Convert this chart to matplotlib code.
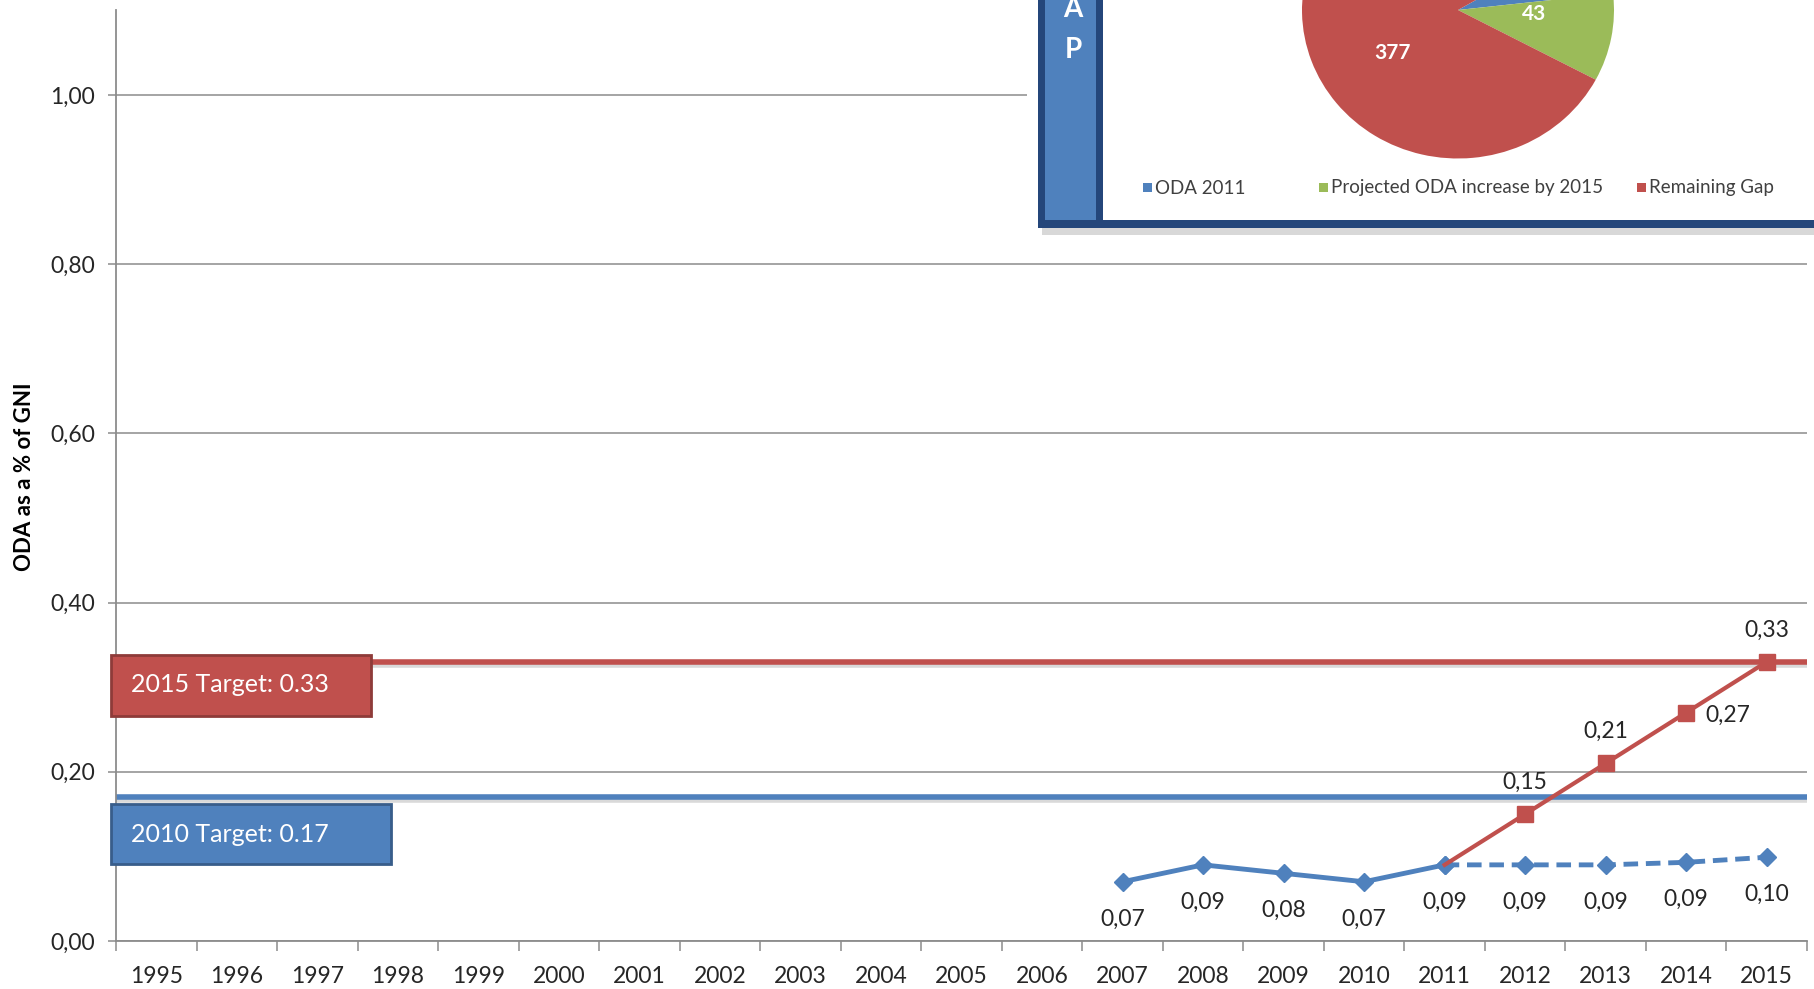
import matplotlib
matplotlib.use("Agg")
import matplotlib.pyplot as plt
from matplotlib.patches import Rectangle
import matplotlib.patheffects as pe

# ---------------- data ----------------
years = list(range(1995, 2016))
actual_years = [2007, 2008, 2009, 2010, 2011]
actual_oda = [0.07, 0.09, 0.08, 0.07, 0.09]
proj_years = [2011, 2012, 2013, 2014, 2015]
proj_oda = [0.09, 0.09, 0.09, 0.093, 0.099]
path_years = [2011, 2012, 2013, 2014, 2015]
path_oda = [0.09, 0.15, 0.21, 0.27, 0.33]
target_2010 = 0.17
target_2015 = 0.33
target_labels = ["2015 Target: 0.33", "2010 Target: 0.17"]
yticks = [0.0, 0.2, 0.4, 0.6, 0.8, 1.0]
pie_labels = ["ODA 2011", "Projected ODA increase by 2015", "Remaining Gap"]
pie_values = [30, 43, 377]
ylabel = "ODA as a % of GNI"

# ---------------- style ----------------
BLUE = "#4F81BD"
RED = "#C0504D"
GREEN = "#9BBB59"
GRID = "#8C8C8C"
TXT = "#262626"
FONT = ["Lato", "DejaVu Sans"]
plt.rcParams["font.family"] = FONT

W, H = 1814, 989
fig = plt.figure(figsize=(W / 100, H / 100), dpi=100)
fig.patch.set_facecolor("white")


def prect(x0, y0, x1, y1, **kw):
    """rectangle given in figure pixel coordinates (origin top-left)"""
    r = Rectangle((x0 / W, 1 - y1 / H), (x1 - x0) / W, (y1 - y0) / H,
                  transform=fig.transFigure, **kw)
    fig.add_artist(r)
    return r


def ptext(x, y, s, **kw):
    return fig.text(x / W, 1 - y / H, s, **kw)


# ---------------- main axes ----------------
ax_l, ax_r, ax_b, ax_t = 116, 1807, 941, 10.4
ax = fig.add_axes([ax_l / W, 1 - ax_b / H, (ax_r - ax_l) / W, (ax_b - ax_t) / H])
ax.set_xlim(years[0] - 0.5, years[-1] + 0.5)
ax.set_ylim(0, 1.1)

for s in ["top", "right"]:
    ax.spines[s].set_visible(False)
for s in ["left", "bottom"]:
    ax.spines[s].set_color(GRID)
    ax.spines[s].set_linewidth(1.3)

ax.set_yticks(yticks)
ax.set_yticklabels([f"{v:.2f}".replace(".", ",") for v in yticks])
ax.yaxis.grid(True, color=GRID, lw=1.1)
ax.set_axisbelow(True)
ax.tick_params(axis="y", length=6, width=1.1, color=GRID, pad=9,
               labelsize=16.5, labelcolor=TXT)

ax.set_xticks(years)
ax.set_xticklabels([str(y) for y in years])
ax.set_xticks([y - 0.5 for y in years] + [years[-1] + 0.5], minor=True)
ax.tick_params(axis="x", which="major", length=0, pad=18, labelsize=16.5, labelcolor=TXT)
ax.tick_params(axis="x", which="minor", length=7, width=1.1, color=GRID)

ptext(25, 477, ylabel, fontsize=16, fontweight="bold", color="black",
      rotation=90, ha="center", va="center")

shadow = [pe.SimpleLineShadow(offset=(0, -2), alpha=0.15, shadow_color="k"), pe.Normal()]
ax.axhline(target_2015, color=RED, lw=4, zorder=2, path_effects=shadow)
ax.axhline(target_2010, color=BLUE, lw=4, zorder=2, path_effects=shadow)

ax.plot(actual_years, actual_oda, color=BLUE, lw=3.5, marker="D", ms=9, zorder=4)
ax.plot(proj_years, proj_oda, color=BLUE, lw=3.5, ls=(0, (3, 1.6)), marker="D", ms=9, zorder=4)
ax.plot(path_years, path_oda, color=RED, lw=3, marker="s", ms=11,
        markevery=list(range(1, len(path_years))), zorder=5)


def fmt(v):
    return f"{v:.2f}".replace(".", ",")


lab_kw = dict(textcoords="offset points", ha="center", va="center", fontsize=16.5, color=TXT)
for x, v in zip(actual_years, actual_oda):
    ax.annotate(fmt(v), (x, v), xytext=(0, -27), **lab_kw)
for x, v in zip(proj_years[1:], proj_oda[1:]):
    ax.annotate(fmt(v), (x, v), xytext=(0, -27), **lab_kw)
for x, v in zip(path_years[1:], path_oda[1:]):
    off = (30, -2) if x == 2014 else (0, 23)
    ax.annotate(fmt(v), (x, v), xytext=off, **lab_kw)

# ---------------- target boxes ----------------
prect(111, 655, 371, 716, facecolor=RED, edgecolor="#8E3B39", lw=2, zorder=3)
ptext(131, 685, target_labels[0], fontsize=18, color="white", va="center", ha="left", zorder=4)
prect(111, 804, 391, 864, facecolor=BLUE, edgecolor="#385D8A", lw=2, zorder=3)
ptext(131, 834, target_labels[1], fontsize=18, color="white", va="center", ha="left", zorder=4)

# ---------------- inset (pie) ----------------
prect(1027, -10, 1830, 238, facecolor="white", edgecolor="none", zorder=3)
prect(1042, 226, 1830, 235, facecolor="#BFBFBF", edgecolor="none", alpha=0.6, zorder=3)
prect(1038, -60, 1830, 228, facecolor="#24467A", edgecolor="none", zorder=3)
prect(1103, -60, 1830, 220, facecolor="white", edgecolor="none", zorder=3)
prect(1045, -60, 1096, 220, facecolor=BLUE, edgecolor="none", zorder=3)
for i, ch in enumerate("GAP"):
    ptext(1073, -32 + 41 * i, ch, fontsize=20, fontweight="bold", color="white",
          ha="center", va="center", zorder=4)

cx, cy, rx, ry = 1458, 10, 156, 148.5
pax = fig.add_axes([(cx - rx) / W, 1 - (cy + ry) / H, 2 * rx / W, 2 * ry / H], zorder=6)
total = sum(pie_values)
wedges, _, autotexts = pax.pie(
    pie_values, colors=[BLUE, GREEN, RED], startangle=30.4, counterclock=False,
    autopct=lambda p: f"{p * total / 100:.0f}", pctdistance=0.5,
    textprops=dict(color="white", fontsize=15, fontweight="bold"),
    wedgeprops=dict(linewidth=0))
autotexts[1].set_position((0.49, -0.03))
autotexts[2].set_position((-0.42, -0.29))
pax.set_xlim(-1, 1)
pax.set_ylim(-1, 1)
pax.set_aspect("auto")
pax.axis("off")

leg_x = [1143, 1319, 1637]
for x, lab, col in zip(leg_x, pie_labels, [BLUE, GREEN, RED]):
    prect(x, 183, x + 9, 192, facecolor=col, edgecolor="none", zorder=4)
    ptext(x + 12, 188, lab, fontsize=13.5, color="#404040", ha="left", va="center", zorder=4)

fig.savefig("out.png", dpi=100, facecolor="white")
